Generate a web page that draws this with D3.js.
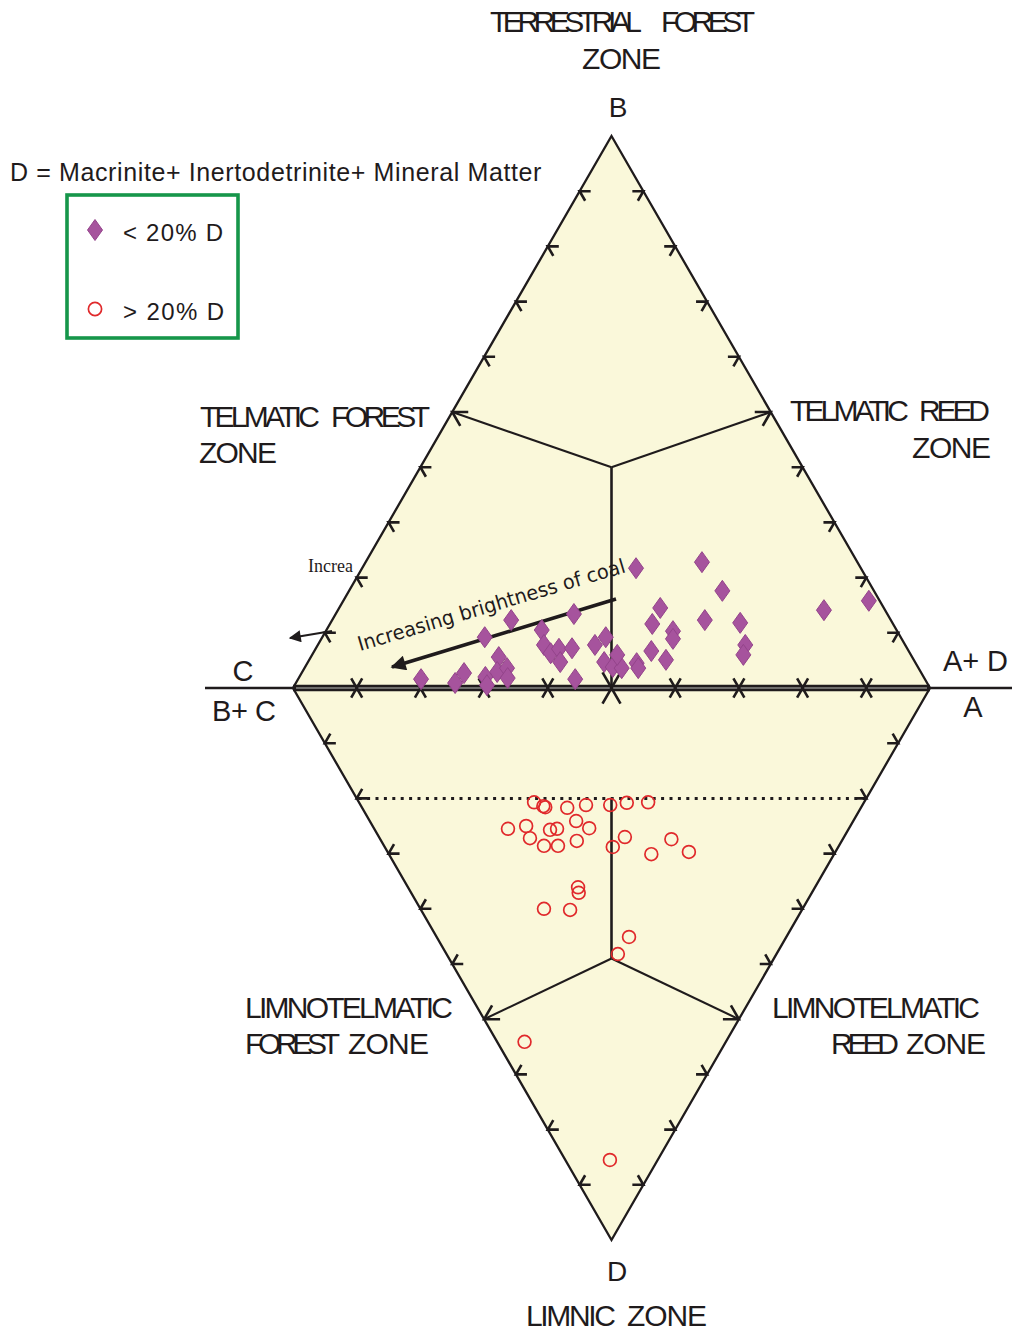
<!DOCTYPE html>
<html>
<head>
<meta charset="utf-8">
<script src="https://cdn.jsdelivr.net/npm/d3@7"></script>
<style>
  body { margin: 0; background: #ffffff; }
  svg { display: block; }
</style>
</head>
<body>
<svg id="chart" width="1015" height="1331"></svg>
<script>
// Upper triangle samples (< 20 % D), composition in percent: [B, C, A+D]
const upperSamples = [
  [1.6, 79.1, 19.3], [0.9, 74.1, 25.0], [2.7, 71.8, 25.5], [9.2, 65.3, 25.5],
  [12.3, 59.6, 28.1], [2.0, 68.8, 29.2], [0.5, 69.3, 30.2], [5.6, 64.9, 29.5],
  [2.9, 66.5, 30.6], [3.6, 64.6, 31.8], [1.8, 65.4, 32.8], [10.5, 55.7, 33.8],
  [7.8, 56.7, 35.5], [6.3, 56.4, 37.3], [7.1, 54.7, 38.2], [4.7, 55.7, 39.6],
  [7.2, 52.6, 40.2], [13.4, 49.2, 37.4], [1.6, 54.9, 43.5], [7.8, 48.7, 43.5],
  [9.2, 46.3, 44.5], [4.7, 48.8, 46.5], [3.8, 47.9, 48.3], [21.7, 35.3, 43.0],
  [22.8, 24.4, 52.8], [17.6, 23.8, 58.6], [14.5, 35.1, 50.4], [11.6, 37.8, 50.6],
  [12.3, 29.2, 58.5], [11.8, 23.9, 64.3], [10.3, 35.2, 54.5], [8.9, 35.9, 55.2],
  [7.8, 25.1, 67.1], [6.0, 26.3, 67.7], [6.7, 40.4, 52.9], [5.1, 38.9, 56.0],
  [4.5, 43.8, 51.7], [3.6, 44.0, 52.4], [3.6, 46.6, 49.8], [6.0, 46.1, 47.9],
  [14.1, 9.6, 76.3], [15.8, 1.7, 82.5]
];

// Lower triangle samples (> 20 % D), composition in percent: [B+C, A, D]
const lowerSamples = [
  [51.8, 27.5, 20.7], [50.0, 28.6, 21.4], [49.6, 28.8, 21.6], [46.1, 32.2, 21.7],
  [43.4, 35.4, 21.2], [39.6, 39.2, 21.2], [37.2, 42.0, 20.8], [33.9, 45.4, 20.7],
  [53.5, 21.0, 25.5], [50.9, 24.1, 25.0], [49.2, 23.6, 27.2], [46.8, 27.5, 25.7],
  [45.8, 28.7, 25.5], [43.5, 32.4, 24.1], [40.8, 33.8, 25.4], [46.3, 25.1, 28.6],
  [44.1, 27.3, 28.6], [41.6, 30.7, 27.7], [35.4, 35.8, 28.8], [34.4, 38.6, 27.0],
  [28.7, 41.2, 30.1], [26.9, 45.7, 27.4], [23.0, 47.3, 29.7], [37.2, 26.7, 36.1],
  [36.6, 26.3, 37.1], [40.6, 19.4, 40.0], [36.4, 23.4, 40.2], [24.7, 30.2, 45.1],
  [24.9, 26.9, 48.2], [31.6, 4.3, 64.1], [7.5, 7.0, 85.5]
];

// Grid divisions along every edge (percent)
const gridSteps = [10, 20, 30, 40, 50, 60, 70, 80, 90];

// Zone boundaries (percent)
const upperJunctionB = 40;     // meeting point of the three upper zone lines
const upperEdgeB = 50;         // where the upper zone lines reach the edges
const lowerJunctionD = 49;     // meeting point of the lower zone lines
const lowerEdgeD = 60;         // where the lower zone lines reach the edges
const dLimit = 20;             // dotted 20 % D line

const legendItems = ["< 20% D", "> 20% D"];

const INK = "#1f1b1c";
const FILL = "#faf8da";
const PURPLE = "#a6539d";
const RED = "#e0292b";
const GREEN = "#16964a";

const svg = d3.select("#chart");

// Diamond frame: u runs C -> A across the middle, v = +B upward, -D downward
const x = d3.scaleLinear().domain([0, 1]).range([293, 930]);
const y = d3.scaleLinear().domain([-1, 1]).range([1240, 136]);

const upperPt = (b, ad) => [x(ad + b / 2), y(b)];          // fractions
const lowerPt = (a, d) => [x(a + d / 2), y(-d)];

const vB = upperPt(1, 0), vC = upperPt(0, 0), vA = upperPt(0, 1), vD = lowerPt(0, 1);

const line = d3.line();

// Background diamond
svg.append("path")
  .attr("d", line([vB, vA, vD, vC]) + "Z")
  .attr("fill", FILL)
  .attr("stroke", INK)
  .attr("stroke-width", 2.3)
  .attr("stroke-linejoin", "miter");

// Horizontal axis continued outside the diamond
svg.append("line").attr("x1", 205).attr("x2", vC[0]).attr("y1", vC[1]).attr("y2", vC[1])
  .attr("stroke", INK).attr("stroke-width", 2.6);
svg.append("line").attr("x1", vA[0]).attr("x2", 1012).attr("y1", vA[1]).attr("y2", vA[1])
  .attr("stroke", INK).attr("stroke-width", 2.6);

// Double line along the shared C-A edge
svg.append("line").attr("x1", vC[0]).attr("x2", vA[0]).attr("y1", vC[1]).attr("y2", vC[1])
  .attr("stroke", INK).attr("stroke-width", 6.5);
svg.append("line").attr("x1", vC[0] + 3).attr("x2", vA[0] - 3).attr("y1", vC[1]).attr("y2", vC[1])
  .attr("stroke", "#8a8a86").attr("stroke-width", 1.6);

// Zone boundaries in the upper triangle
const uj = upperPt(upperJunctionB / 100, (1 - upperJunctionB / 100) / 2);
const zoneLines = svg.append("g").attr("stroke", INK).attr("stroke-width", 2.1).attr("fill", "none");
zoneLines.append("path").attr("d", line([uj, upperPt(upperEdgeB / 100, 0)]));
zoneLines.append("path").attr("d", line([uj, upperPt(upperEdgeB / 100, 1 - upperEdgeB / 100)]));
zoneLines.append("path").attr("d", line([uj, upperPt(0, 0.5)])).attr("stroke-width", 2.6);

// Zone boundaries in the lower triangle
const lj = lowerPt((1 - lowerJunctionD / 100) / 2, lowerJunctionD / 100);
zoneLines.append("path").attr("d", line([lj, lowerPt(0, lowerEdgeD / 100)]));
zoneLines.append("path").attr("d", line([lj, lowerPt(1 - lowerEdgeD / 100, lowerEdgeD / 100)]));
zoneLines.append("path").attr("d", line([lj, lowerPt((1 - dLimit / 100) / 2, dLimit / 100)])).attr("stroke-width", 2.6);

// Dotted 20 % D line
svg.append("line")
  .attr("x1", lowerPt(0, dLimit / 100)[0] + 2)
  .attr("x2", lowerPt(1 - dLimit / 100, dLimit / 100)[0])
  .attr("y1", y(-dLimit / 100)).attr("y2", y(-dLimit / 100))
  .attr("stroke", INK).attr("stroke-width", 3)
  .attr("stroke-dasharray", "3 5.4");

// Chevron tick: tip on the edge, pointing outward along angle `dir` (deg, screen space)
const tickG = svg.append("g").attr("stroke", INK).attr("stroke-width", 2.6)
  .attr("fill", "none").attr("stroke-linecap", "butt");
function chevron(p, dir, len) {
  const back = (dir + 180) * Math.PI / 180, h = 30 * Math.PI / 180;
  const a1 = [p[0] + len * Math.cos(back - h), p[1] + len * Math.sin(back - h)];
  const a2 = [p[0] + len * Math.cos(back + h), p[1] + len * Math.sin(back + h)];
  tickG.append("path").attr("d", line([a1, p, a2]));
}

gridSteps.forEach(s => {
  const f = s / 100;
  const bigUpper = s === upperEdgeB, bigLower = s === lowerEdgeD;
  chevron(upperPt(f, 0), 210, bigUpper ? 16 : 11);          // C-B edge
  chevron(upperPt(f, 1 - f), 330, bigUpper ? 16 : 11);      // A-B edge
  chevron(lowerPt(0, f), 150, bigLower ? 16 : 11);          // (B+C)-D edge
  chevron(lowerPt(1 - f, f), 30, bigLower ? 16 : 11);       // A-D edge
  const mid = [x(f), y(0)];
  const big = s === 50 ? 18 : 11;
  chevron(mid, 90, big);                                    // C-A edge, upper side
  chevron(mid, 270, big);                                   // C-A edge, lower side
});

// Trend arrows
svg.append("defs").html(
  '<marker id="head" viewBox="0 0 10 10" refX="9" refY="5" markerWidth="6" markerHeight="4.2" orient="auto" markerUnits="strokeWidth">' +
  '<path d="M0,0 L10,5 L0,10 Z" fill="' + INK + '"/></marker>' +
  '<marker id="headSmall" viewBox="0 0 10 10" refX="9" refY="5" markerWidth="8" markerHeight="6" orient="auto" markerUnits="strokeWidth">' +
  '<path d="M0,0 L10,5 L0,10 Z" fill="' + INK + '"/></marker>');

svg.append("line")
  .attr("x1", 616).attr("y1", 599).attr("x2", 392).attr("y2", 667)
  .attr("stroke", INK).attr("stroke-width", 3.6)
  .attr("marker-end", "url(#head)");

svg.append("text")
  .attr("transform", "translate(360,651) rotate(-16.5)")
  .attr("font-family", "'DejaVu Sans', 'Open Sans', sans-serif")
  .attr("font-size", 20)
  .attr("fill", INK)
  .attr("textLength", 278)
  .attr("lengthAdjust", "spacingAndGlyphs")
  .text("Increasing brightness of coal");

svg.append("line")
  .attr("x1", 332).attr("y1", 631).attr("x2", 290).attr("y2", 638)
  .attr("stroke", INK).attr("stroke-width", 2)
  .attr("marker-end", "url(#headSmall)");

svg.append("text")
  .attr("x", 308).attr("y", 572)
  .attr("font-family", "'Liberation Serif', 'Times New Roman', serif")
  .attr("font-size", 18)
  .attr("fill", INK)
  .text("Increa");

// Samples
const diamondPath = "M0,-10.5 L7.5,0 L0,10.5 L-7.5,0 Z";
svg.append("g").selectAll("path")
  .data(upperSamples)
  .join("path")
  .attr("d", diamondPath)
  .attr("transform", d => {
    const p = upperPt(d[0] / 100, d[2] / 100);
    return `translate(${p[0]},${p[1]})`;
  })
  .attr("fill", PURPLE)
  .attr("stroke", "#94448b")
  .attr("stroke-width", 1);

svg.append("g").selectAll("circle")
  .data(lowerSamples)
  .join("circle")
  .attr("cx", d => lowerPt(d[1] / 100, d[2] / 100)[0])
  .attr("cy", d => lowerPt(d[1] / 100, d[2] / 100)[1])
  .attr("r", 6.4)
  .attr("fill", "none")
  .attr("stroke", RED)
  .attr("stroke-width", 1.7);

// Labels
const SANS = "'Liberation Sans', Arial, sans-serif";
const labelG = svg.append("g").attr("font-family", SANS).attr("fill", INK)
  .style("white-space", "pre");

// A word set tightly between x0 and x1 by adjusting its letter spacing
function word(t, x0, x1, py, size) {
  const el = labelG.append("text")
    .attr("x", x0).attr("y", py)
    .attr("font-size", size)
    .text(t);
  if (x1 != null && t.length > 1) {
    const natural = el.node().getComputedTextLength();
    el.attr("letter-spacing", ((x1 - x0) - natural) / (t.length - 1));
  }
  return el;
}
function centered(t, cx, py, size) {
  return labelG.append("text")
    .attr("x", cx).attr("y", py)
    .attr("font-size", size)
    .attr("text-anchor", "middle")
    .text(t);
}

word("TERRESTRIAL", 490, 642, 32, 30);
word("FOREST", 661, 755, 32, 30);
word("ZONE", 582, 661, 69, 30);
centered("B", 618, 117, 28);

word("TELMATIC", 200, 320, 427, 30);
word("FOREST", 331, 430, 427, 30);
word("ZONE", 199, 277, 463, 30);
word("TELMATIC", 790, 909, 421, 30);
word("REED", 919, 990, 421, 30);
word("ZONE", 912, 991, 458, 30);

centered("C", 243, 681, 29);
word("B+ C", 212, 276, 721, 29);
word("A+ D", 943, 1008, 671, 29);
centered("A", 973, 717, 29);

word("LIMNOTELMATIC", 245, 453, 1018, 30);
word("FOREST", 245, 340, 1054, 30);
word("ZONE", 348, 429, 1054, 30);
word("LIMNOTELMATIC", 772, 980, 1018, 30);
word("REED", 831, 899, 1054, 30);
word("ZONE", 906, 986, 1054, 30);

centered("D", 617, 1281, 28);
word("LIMNIC", 526, 616, 1326, 30);
word("ZONE", 627, 707, 1326, 30);

word("D =  Macrinite+ Inertodetrinite+ Mineral Matter", 10, 542, 181, 25);

// Legend
svg.append("rect")
  .attr("x", 67).attr("y", 195).attr("width", 171).attr("height", 143)
  .attr("fill", "none").attr("stroke", GREEN).attr("stroke-width", 3.6);

svg.append("path").attr("d", diamondPath)
  .attr("transform", "translate(95,230)")
  .attr("fill", PURPLE).attr("stroke", "#94448b").attr("stroke-width", 1);
svg.append("circle").attr("cx", 95).attr("cy", 309).attr("r", 6.6)
  .attr("fill", "none").attr("stroke", RED).attr("stroke-width", 1.7);

word(legendItems[0], 123, 223, 241, 24);
word(legendItems[1], 123, 224, 320, 24);
</script>
</body>
</html>
